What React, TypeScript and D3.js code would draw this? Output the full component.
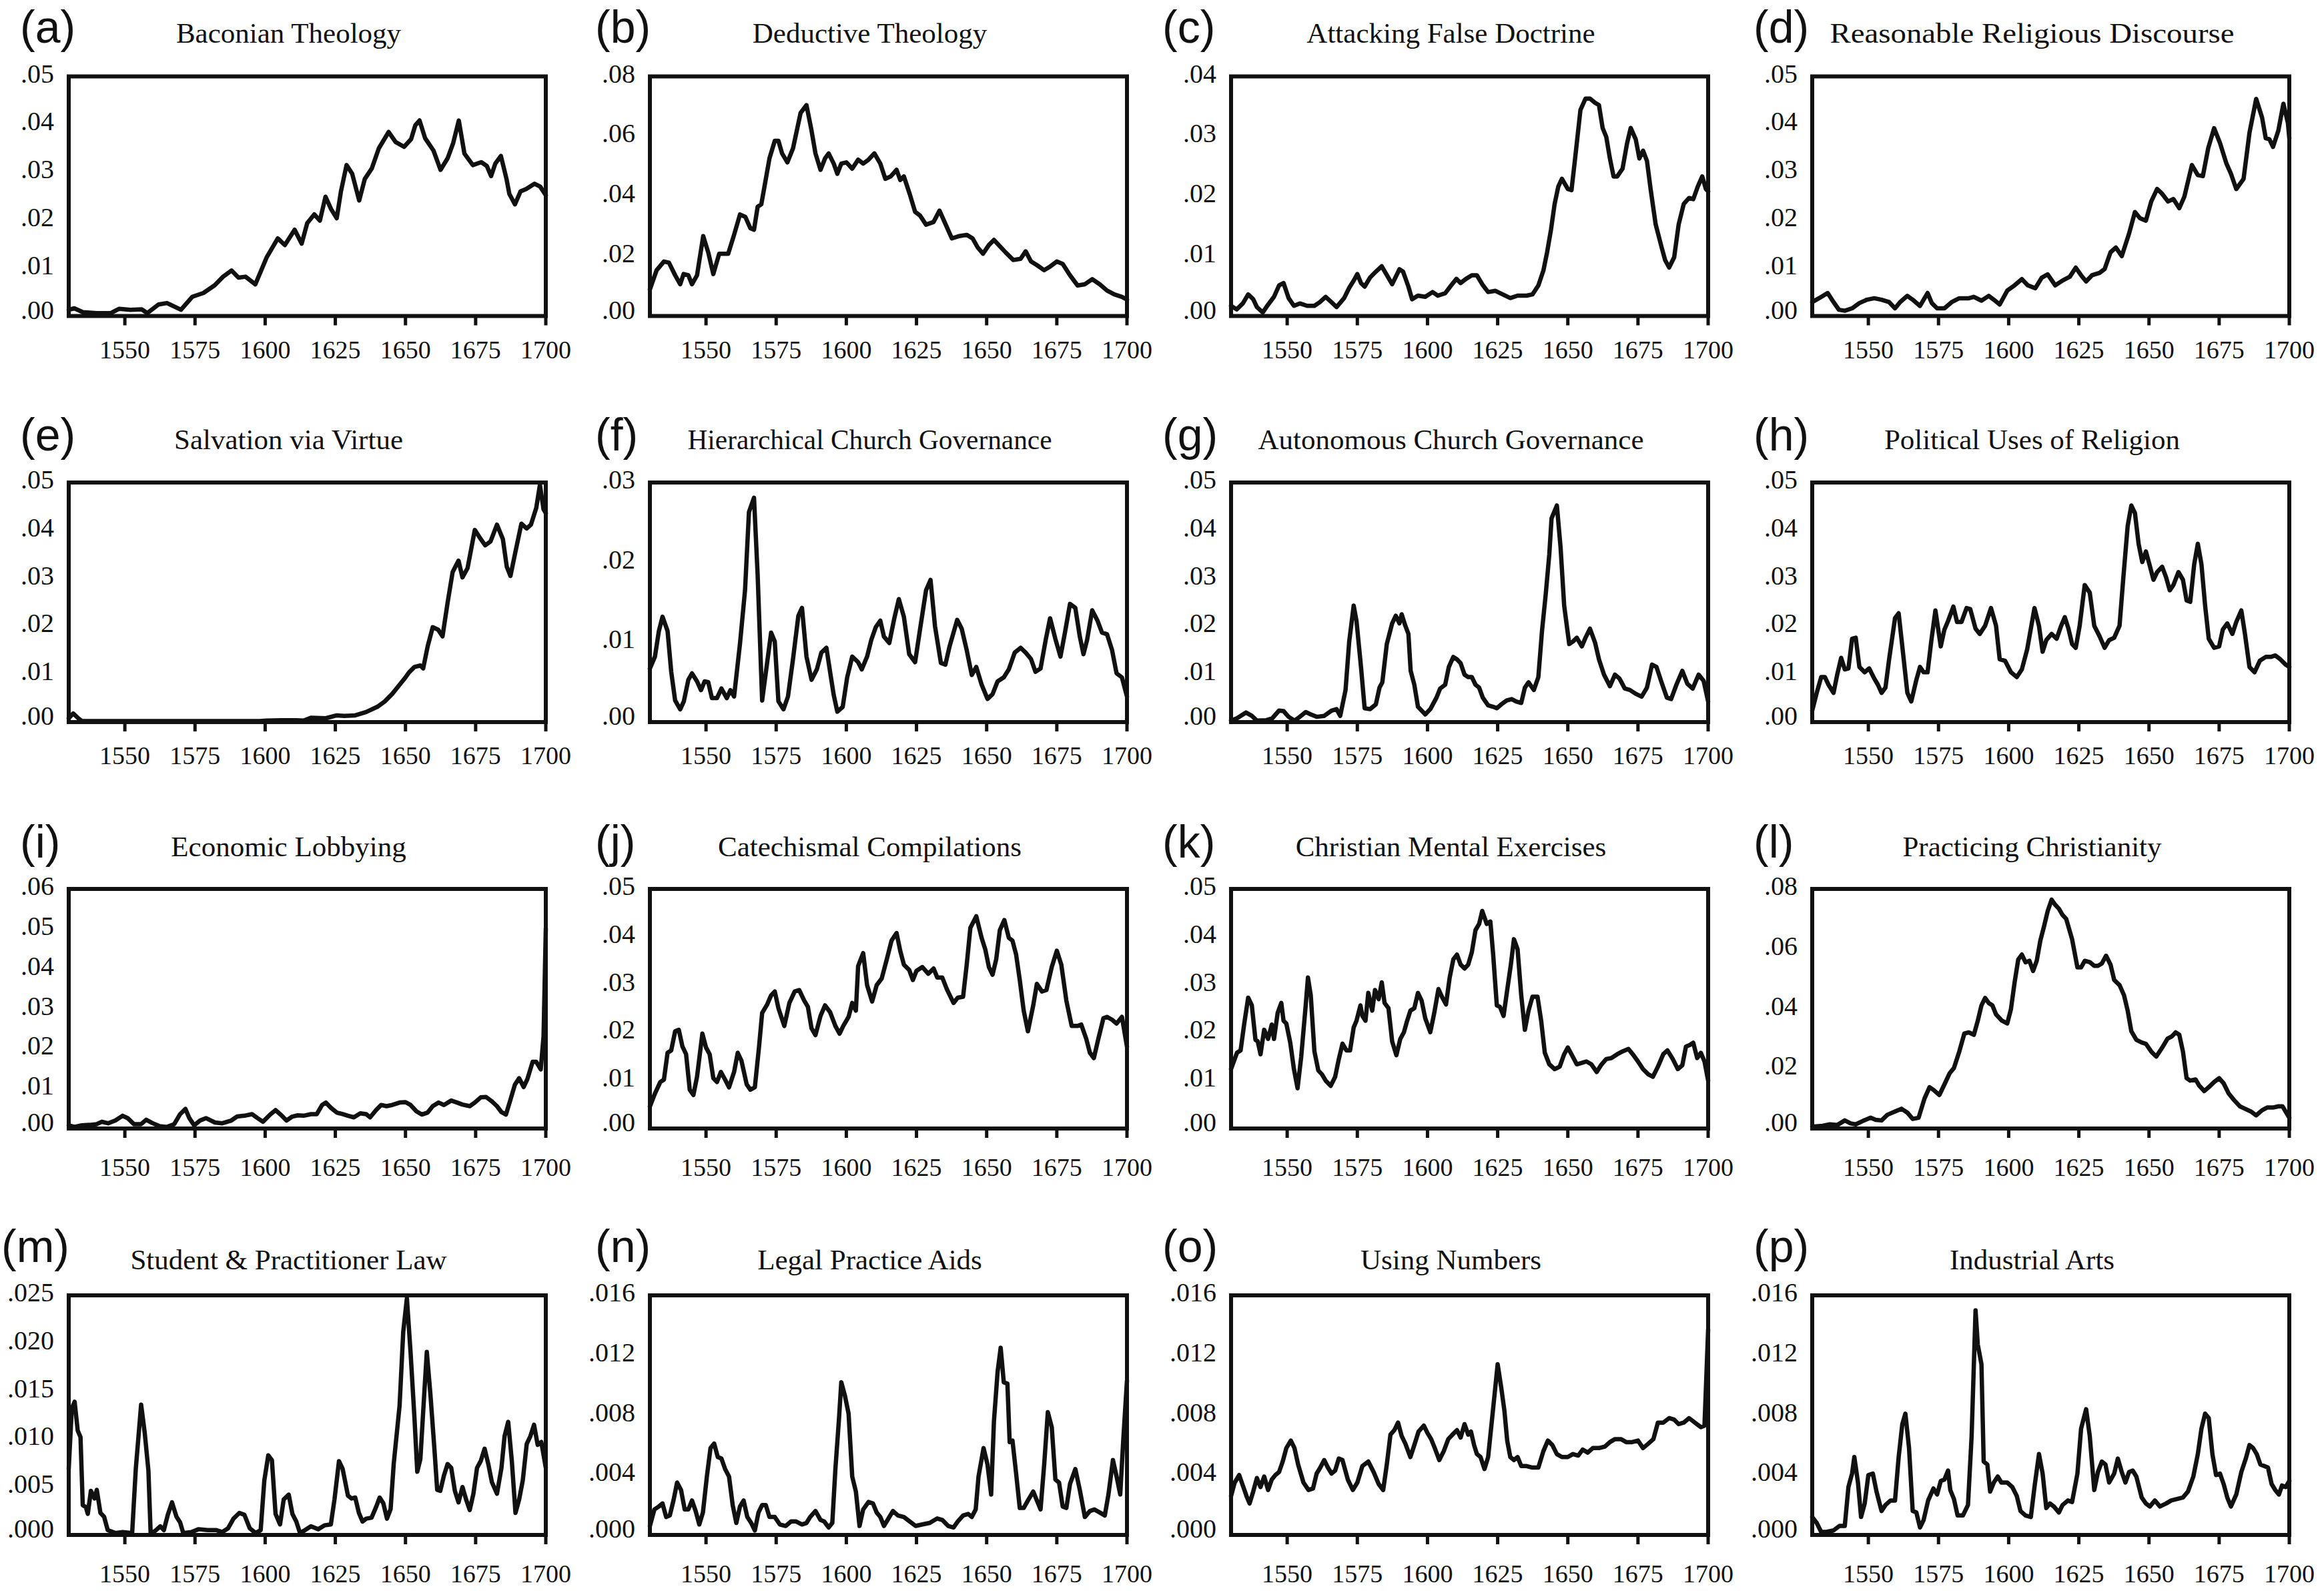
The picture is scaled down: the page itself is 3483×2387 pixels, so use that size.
import * as d3 from "d3"

type Pt = [number, number]

const letters = ["a", "b", "c", "d", "e", "f", "g", "h", "i", "j", "k", "l", "m", "n", "o", "p"]

const titles = [
  "Baconian Theology",
  "Deductive Theology",
  "Attacking False Doctrine",
  "Reasonable Religious Discourse",
  "Salvation via Virtue",
  "Hierarchical Church Governance",
  "Autonomous Church Governance",
  "Political Uses of Religion",
  "Economic Lobbying",
  "Catechismal Compilations",
  "Christian Mental Exercises",
  "Practicing Christianity",
  "Student & Practitioner Law",
  "Legal Practice Aids",
  "Using Numbers",
  "Industrial Arts",
]

const yMaxes = [0.05, 0.08, 0.04, 0.05, 0.05, 0.03, 0.05, 0.05, 0.06, 0.05, 0.05, 0.08, 0.025, 0.016, 0.016, 0.016]
const ySteps = [0.01, 0.02, 0.01, 0.01, 0.01, 0.01, 0.01, 0.01, 0.01, 0.01, 0.01, 0.02, 0.005, 0.004, 0.004, 0.004]

const xTicks = [1550, 1575, 1600, 1625, 1650, 1675, 1700]

const baconian: Pt[] = [[1530,.0013],[1532,.0016],[1535,.0008],[1540,.0006],[1545,.0006],[1548,.0015],[1552,.0013],[1556,.0014],[1558,.0006],[1562,.0024],[1565,.0027],[1570,.0013],[1574,.004],[1578,.0048],[1582,.0064],[1585,.0082],[1588,.0095],[1590.5,.008],[1593,.0082],[1596.5,.0066],[1600.5,.0122],[1604.5,.0162],[1607,.0148],[1610.5,.018],[1613,.0151],[1615,.0194],[1617.5,.0212],[1619.5,.0199],[1621.5,.0249],[1623.5,.0223],[1625.5,.0204],[1627,.026],[1629,.0315],[1631,.0297],[1633.5,.0241],[1635.5,.0286],[1638,.0308],[1640.5,.035],[1644,.0384],[1646.5,.0363],[1649.5,.0353],[1652,.0369],[1653.5,.0398],[1655,.0408],[1657,.0371],[1660,.0345],[1662.5,.0305],[1665,.0329],[1667,.0361],[1669,.0408],[1671,.0339],[1674,.0315],[1677,.0321],[1679,.0313],[1680.5,.0292],[1682,.0318],[1684,.0334],[1686,.0286],[1687,.0255],[1689,.0233],[1691,.026],[1693,.0265],[1696,.0276],[1698,.027],[1700,.0252]]

const deductive: Pt[] = [[1530,.0089],[1532.4,.0153],[1535,.0182],[1536.8,.0178],[1539,.0136],[1540.8,.0106],[1542,.014],[1543.7,.0136],[1545,.0106],[1546.8,.0136],[1549,.0267],[1550.8,.0212],[1552.6,.014],[1554.7,.0208],[1557.9,.0208],[1560,.0271],[1562.1,.0339],[1564,.0331],[1565.8,.0293],[1567.1,.0288],[1568.4,.0365],[1569.7,.0373],[1571,.0441],[1572.6,.0526],[1574.5,.0585],[1575.8,.0585],[1577.1,.0543],[1579,.0513],[1581,.056],[1583.7,.0678],[1585.8,.0704],[1587.6,.0619],[1589,.0543],[1590.8,.0488],[1592.4,.0526],[1593.7,.0543],[1595.5,.0509],[1596.8,.0475],[1598.2,.0509],[1600,.0513],[1602.1,.0492],[1604.2,.0522],[1606,.0509],[1607.9,.0522],[1610,.0543],[1612.1,.0509],[1613.9,.0458],[1615.8,.0466],[1617.9,.0488],[1619.2,.0454],[1620.5,.0466],[1622.6,.0407],[1624.5,.0348],[1626.3,.0335],[1628.4,.0305],[1631.1,.0314],[1633.2,.0352],[1635,.0314],[1637.6,.0259],[1640.3,.0267],[1642.9,.0271],[1645,.0259],[1646.8,.0229],[1648.7,.0208],[1650.8,.0237],[1652.6,.0254],[1654.7,.0233],[1656.8,.0212],[1659.5,.0187],[1662.1,.0191],[1663.9,.0216],[1665.8,.0182],[1667.9,.017],[1670.5,.0153],[1672.6,.0165],[1675,.0182],[1677.1,.0174],[1679.7,.0136],[1682.4,.0102],[1685,.0106],[1687.6,.0123],[1690.3,.0106],[1692.9,.0085],[1695.5,.0072],[1698.2,.0064],[1700,.0055]]

const attacking: Pt[] = [[1530,.0017],[1532,.0011],[1534.2,.0021],[1536.1,.0036],[1537.9,.0028],[1539.2,.0015],[1541.3,.0006],[1543.2,.0019],[1545.3,.0032],[1547.1,.0051],[1548.7,.0055],[1550.5,.003],[1552.4,.0017],[1554.5,.0021],[1557.1,.0017],[1559.7,.0017],[1561.6,.0023],[1563.7,.0032],[1565.8,.0023],[1567.6,.0015],[1570.3,.003],[1572.1,.0047],[1573.7,.0059],[1575,.007],[1576.3,.0055],[1577.6,.0049],[1579.5,.0064],[1581.6,.0074],[1583.7,.0083],[1585.3,.007],[1587.4,.0053],[1590,.0078],[1591.3,.0074],[1593.2,.0049],[1594.5,.0028],[1596.6,.0034],[1599.2,.0032],[1601.8,.004],[1603.7,.0034],[1606.3,.0038],[1608.4,.0051],[1610.3,.0062],[1611.8,.0055],[1613.7,.0062],[1615.8,.0068],[1617.6,.0068],[1619.5,.0053],[1621.6,.004],[1624.2,.0042],[1626.8,.0036],[1629.5,.003],[1632.1,.0034],[1635.3,.0034],[1637.4,.0036],[1639.5,.0051],[1641.3,.0076],[1642.6,.0106],[1644,.0144],[1645.3,.0187],[1646.6,.0216],[1647.9,.0229],[1650,.0212],[1651.3,.021],[1652.6,.0263],[1654.5,.0344],[1656.3,.0363],[1657.9,.0363],[1659.7,.0356],[1661.1,.0352],[1662.4,.0314],[1663.7,.0299],[1665,.0263],[1666.3,.0233],[1667.6,.0233],[1669.5,.0246],[1671.1,.0288],[1672.4,.0314],[1674.2,.0295],[1675.5,.0263],[1676.8,.0276],[1678.2,.0259],[1679.5,.0212],[1681.3,.0153],[1683.4,.0115],[1684.7,.0093],[1686.1,.0081],[1687.9,.0098],[1689.5,.0153],[1691.3,.0187],[1693.2,.0197],[1694.7,.0195],[1696.3,.0216],[1697.9,.0233],[1699.2,.0212],[1700,.0208]]

const reasonable: Pt[] = [[1530,.0029],[1532.4,.0037],[1535.5,.0048],[1537.6,.0029],[1539.5,.0013],[1541.6,.0011],[1544.2,.0016],[1546.8,.0027],[1549.5,.0034],[1552.1,.0037],[1554.7,.0034],[1557.4,.0029],[1559.5,.0016],[1561.3,.0029],[1563.9,.0042],[1565.8,.0034],[1568.4,.0021],[1571.1,.0048],[1572.6,.0027],[1574.5,.0016],[1577.1,.0016],[1579.7,.0029],[1582.4,.0037],[1585.8,.0037],[1587.6,.004],[1590.3,.0032],[1592.9,.0042],[1594.7,.0034],[1596.8,.0024],[1599.5,.0053],[1602.1,.0064],[1604.7,.0077],[1606.8,.0064],[1609.5,.0058],[1611.8,.008],[1613.9,.0087],[1616.6,.0064],[1619.2,.0074],[1621.8,.0082],[1623.9,.0101],[1625.8,.0085],[1627.6,.0072],[1629.7,.0085],[1632.4,.009],[1634.2,.0098],[1636.3,.0133],[1638.2,.0143],[1640.3,.0125],[1642.9,.0172],[1645,.0217],[1646.8,.0204],[1648.9,.0199],[1650.8,.0239],[1652.9,.0265],[1654.7,.0255],[1656.8,.0239],[1658.7,.0244],[1660.8,.0225],[1662.6,.0249],[1665.3,.0315],[1667.4,.0294],[1669.2,.0292],[1671.1,.035],[1673.2,.0392],[1675.3,.0361],[1677.6,.0318],[1679.2,.0297],[1681.1,.0265],[1683.7,.0286],[1685.8,.0382],[1688.2,.0453],[1690.3,.0414],[1691.6,.0371],[1692.9,.0369],[1694.2,.0353],[1696.1,.0387],[1697.9,.0443],[1699.5,.0403],[1700,.0371]]

const salvation: Pt[] = [[1530,.0008],[1531.6,.0018],[1533.4,.0008],[1534.7,.0002],[1545,.0002],[1560,.0002],[1575,.0002],[1590,.0002],[1598,.0002],[1600.5,.0003],[1605.8,.0004],[1611,.0004],[1613.7,.0003],[1616.3,.0009],[1621.6,.0008],[1625.5,.0014],[1628.2,.0013],[1632.1,.0014],[1636,.0021],[1640,.0032],[1642.6,.0043],[1645.3,.0059],[1647.9,.0078],[1649.7,.0091],[1651.3,.0104],[1653.2,.0115],[1655.3,.0118],[1656.3,.0112],[1657.9,.0158],[1659.7,.0198],[1661.6,.0193],[1663.2,.0179],[1665,.0249],[1666.8,.0313],[1668.9,.0337],[1670.3,.0302],[1672.1,.0321],[1673.4,.0361],[1674.7,.0401],[1676.8,.0382],[1678.4,.0369],[1680.3,.0377],[1682.6,.0412],[1684.7,.0382],[1686.1,.0324],[1687.4,.0305],[1689.2,.0356],[1691.3,.0414],[1693.2,.0404],[1694.7,.0412],[1696.6,.0447],[1697.9,.0495],[1699.2,.0444],[1700,.0436]]

const hierarchical: Pt[] = [[1530,.0067],[1531.8,.0082],[1533.2,.0114],[1534.5,.0132],[1536.3,.0114],[1537.6,.0063],[1539,.0027],[1540.8,.0016],[1542.1,.0026],[1543.7,.0053],[1545,.0061],[1546.8,.0051],[1548.2,.004],[1549.5,.0051],[1550.8,.005],[1552.1,.003],[1553.9,.003],[1555.5,.0042],[1557.4,.003],[1558.7,.004],[1560,.0032],[1562.1,.0098],[1563.9,.0165],[1565.3,.0263],[1567.1,.0281],[1568.4,.0184],[1570,.0027],[1571.8,.0075],[1573.2,.0112],[1574.5,.0101],[1575.8,.0026],[1577.6,.0016],[1579.2,.0032],[1581,.0079],[1582.9,.0133],[1584.2,.0143],[1585.8,.0082],[1587.6,.0053],[1589.5,.0066],[1591.1,.0087],[1592.9,.0093],[1594.2,.0063],[1595.5,.0034],[1596.8,.0013],[1598.7,.0019],[1600.3,.0056],[1602.1,.0082],[1604.2,.0075],[1605.5,.0066],[1607.4,.0082],[1608.9,.0103],[1610.5,.0119],[1612.1,.0127],[1613.4,.0107],[1615.3,.0099],[1617.1,.013],[1618.7,.0154],[1620.5,.0132],[1622.4,.0085],[1624.5,.0075],[1626.3,.0117],[1628.4,.0165],[1630,.0178],[1631.6,.012],[1633.7,.0074],[1635.3,.0072],[1636.8,.0095],[1639.5,.0128],[1641.1,.0117],[1642.9,.009],[1644.7,.0059],[1646.3,.0069],[1648.2,.0047],[1650.3,.0029],[1652.1,.0035],[1653.9,.0051],[1656.1,.0056],[1657.9,.0066],[1660,.0087],[1662.1,.0093],[1663.9,.0087],[1665.8,.0079],[1667.4,.0063],[1669.2,.0067],[1671.1,.0104],[1672.6,.013],[1674.5,.0104],[1676.3,.0082],[1677.9,.0112],[1679.7,.0148],[1681.6,.0143],[1683.2,.0107],[1684.5,.0085],[1685.8,.0103],[1687.6,.014],[1689.5,.0127],[1691.1,.0112],[1692.9,.011],[1694.7,.009],[1696.3,.0061],[1698.2,.0056],[1700,.0032]]

const autonomous: Pt[] = [[1530,.0003],[1532.1,.0008],[1535.3,.002],[1537.4,.0013],[1539.2,.0003],[1542.6,.0004],[1544.7,.0008],[1547.1,.0024],[1548.7,.0023],[1550.5,.0011],[1552.6,.0003],[1554.5,.0011],[1556.6,.0021],[1558.4,.0016],[1560.5,.0011],[1563.2,.0013],[1565.8,.0024],[1567.6,.0027],[1568.9,.0013],[1570.8,.0067],[1572.1,.0168],[1573.7,.0243],[1574.7,.0211],[1576.3,.0115],[1577.6,.0029],[1579.5,.0027],[1581.6,.0037],[1582.9,.0072],[1583.9,.0083],[1585.5,.0163],[1587.4,.0206],[1588.7,.0222],[1590,.0206],[1590.8,.0225],[1592.1,.0201],[1593.2,.0184],[1594,.0107],[1595.3,.0078],[1596.6,.0032],[1597.9,.0024],[1599.2,.0016],[1601,.0027],[1603.2,.0051],[1604.5,.007],[1606.3,.0078],[1607.6,.0115],[1609.2,.0136],[1610.5,.0131],[1611.8,.0123],[1613.2,.0099],[1614.5,.0094],[1615.8,.0094],[1617.1,.0078],[1618.4,.0072],[1619.7,.0051],[1621.6,.0035],[1623.4,.0032],[1624.7,.0029],[1626.3,.0037],[1628.2,.0045],[1630,.0048],[1631.6,.0043],[1633.4,.004],[1634.7,.0072],[1636,.0083],[1637.9,.0067],[1639.5,.0094],[1640.8,.019],[1642.1,.0265],[1643.4,.035],[1644.2,.0425],[1646.1,.0452],[1647.4,.0366],[1648.7,.0243],[1650.5,.0163],[1651.8,.0168],[1653.2,.0176],[1655,.0158],[1656.3,.0176],[1657.9,.0195],[1659.7,.0166],[1661.1,.0131],[1662.9,.0099],[1665,.0075],[1666.8,.0099],[1668.4,.0091],[1670.3,.007],[1672.1,.0067],[1674.2,.0059],[1676.3,.0053],[1678.2,.0072],[1680,.012],[1681.6,.0115],[1683.4,.0083],[1685.3,.0051],[1686.8,.0048],[1688.7,.0078],[1690.8,.0107],[1692.6,.008],[1694.5,.007],[1696.6,.0099],[1698.4,.0086],[1700,.0043]]

const political: Pt[] = [[1530,.0024],[1531.6,.0061],[1533.2,.0094],[1534.5,.0094],[1535.8,.0078],[1537.6,.0061],[1538.9,.0099],[1540.3,.0134],[1541.6,.011],[1542.9,.0112],[1544.2,.0174],[1545.5,.0176],[1546.8,.0115],[1548.7,.0104],[1550.3,.0112],[1552.1,.0091],[1553.4,.0078],[1554.7,.0061],[1556.1,.0072],[1557.4,.0131],[1559.5,.0217],[1560.8,.0227],[1562.1,.0158],[1563.9,.0061],[1565.3,.0043],[1567.1,.0088],[1568.4,.0115],[1569.7,.0104],[1571.1,.0104],[1572.4,.0168],[1573.9,.0233],[1575.8,.0158],[1577.1,.0193],[1578.4,.0211],[1580.3,.0241],[1581.6,.0209],[1583.2,.0209],[1585,.0238],[1586.3,.0236],[1588.2,.0195],[1589.7,.0184],[1591.6,.0201],[1593.7,.0238],[1595.5,.0201],[1596.8,.0131],[1598.7,.0128],[1600.8,.0104],[1602.9,.0094],[1604.7,.011],[1606.6,.0152],[1607.9,.0195],[1609.2,.0238],[1610.8,.0201],[1612.1,.0147],[1613.4,.0171],[1615.3,.0184],[1617.1,.0174],[1618.7,.0201],[1620,.0219],[1621.3,.0195],[1622.6,.0163],[1623.9,.0155],[1625.3,.0201],[1627.1,.0286],[1628.9,.027],[1630.5,.0201],[1632.4,.0179],[1634.2,.0155],[1635.8,.0171],[1637.6,.0176],[1639.5,.0201],[1640.8,.0297],[1642.4,.0409],[1643.7,.0452],[1645,.0436],[1646.3,.0372],[1647.6,.0334],[1648.9,.0356],[1650.3,.0326],[1651.6,.0297],[1652.9,.0313],[1654.7,.0324],[1656.1,.0302],[1657.4,.0275],[1658.7,.0286],[1660.5,.0313],[1662.1,.0297],[1663.4,.0254],[1664.7,.0251],[1666.1,.0329],[1667.4,.0372],[1668.7,.0329],[1670,.0243],[1671.3,.0174],[1673.2,.0155],[1675,.0158],[1676.3,.0193],[1677.9,.0206],[1679.7,.0184],[1681.1,.0209],[1682.9,.0233],[1684.2,.0184],[1685.8,.0115],[1687.6,.0104],[1689.5,.0128],[1691.6,.0136],[1693.4,.0136],[1695,.0139],[1696.8,.0131],[1698.7,.012],[1700,.0115]]

const economic: Pt[] = [[1530,.0008],[1532,.0004],[1534.7,.0008],[1537.4,.0009],[1540,.0011],[1541.8,.0017],[1544,.0013],[1546.6,.002],[1549.2,.0032],[1551,.0026],[1553.2,.0011],[1555.8,.0011],[1557.6,.0022],[1559.7,.0014],[1562.4,.0006],[1565,.0004],[1567.6,.0011],[1569.7,.0036],[1571.6,.0049],[1572.9,.0027],[1574.7,.0008],[1576.8,.002],[1578.9,.0026],[1582.1,.0015],[1584.7,.0013],[1587.9,.002],[1590,.003],[1592.6,.0032],[1595.3,.0036],[1597.1,.0027],[1599.2,.0017],[1601.8,.0035],[1603.7,.0046],[1605.8,.0033],[1607.6,.002],[1609.7,.003],[1611.6,.0033],[1613.7,.0032],[1616.3,.0036],[1618.4,.0036],[1620.3,.0059],[1621.6,.0065],[1623.4,.0052],[1625.5,.004],[1627.6,.0036],[1629.5,.0032],[1631.6,.0028],[1633.9,.0038],[1636,.0036],[1637.4,.0028],[1639.5,.0046],[1641.3,.0059],[1643.2,.0056],[1645.3,.0059],[1647.9,.0065],[1650,.0066],[1651.8,.0059],[1653.9,.0043],[1655.8,.0035],[1657.9,.004],[1659.7,.0056],[1661.8,.0065],[1663.7,.0059],[1666.3,.007],[1668.4,.0065],[1670.3,.006],[1672.9,.0056],[1674.7,.0065],[1676.8,.0078],[1678.7,.0079],[1680.8,.0068],[1682.6,.0056],[1684.2,.0041],[1685.8,.0035],[1687.4,.0072],[1689,.011],[1690.5,.0126],[1692.1,.0104],[1693.4,.0123],[1695.3,.0167],[1696.6,.0167],[1698.2,.0148],[1699.2,.0231],[1700,.05]]

const catechismal: Pt[] = [[1530,.0046],[1531.8,.0073],[1533.7,.0097],[1535,.0102],[1536.3,.0158],[1537.6,.0163],[1539,.0203],[1540.3,.0206],[1541.6,.0171],[1542.9,.0155],[1544.2,.0081],[1545.5,.007],[1546.8,.0108],[1548.7,.0198],[1550,.0169],[1551.3,.0155],[1552.6,.0105],[1553.9,.0097],[1555.3,.0118],[1556.8,.0102],[1558.2,.0086],[1560,.0118],[1561.3,.0158],[1562.6,.0142],[1564.5,.0092],[1565.8,.0081],[1567.4,.0086],[1568.9,.0171],[1570,.0241],[1571.8,.0259],[1573.2,.0278],[1574.5,.0286],[1575.8,.0251],[1577.9,.0214],[1579.7,.0262],[1581.6,.0286],[1583.2,.0289],[1585,.0267],[1586.3,.0254],[1587.6,.0209],[1589,.0195],[1590.8,.0235],[1592.4,.0257],[1594.2,.0243],[1596.1,.0214],[1597.6,.0198],[1598.9,.0214],[1600.8,.0233],[1602.1,.0262],[1603.4,.0246],[1604.2,.0339],[1606,.0366],[1607.4,.0299],[1609.2,.0265],[1610.8,.0299],[1612.6,.0313],[1614.5,.0355],[1616.1,.0392],[1617.9,.0408],[1619.2,.0371],[1620.5,.0342],[1622.4,.0331],[1623.7,.031],[1625,.0329],[1627.1,.0337],[1629.2,.0323],[1631.1,.0334],[1632.4,.0315],[1634.2,.0315],[1635.8,.0291],[1638.2,.0262],[1639.7,.0273],[1641.6,.0275],[1642.9,.0342],[1644.2,.0419],[1646.3,.0443],[1648.2,.0398],[1649.5,.0374],[1650.8,.0337],[1652.1,.0321],[1653.4,.0353],[1654.7,.0414],[1656.3,.0435],[1657.9,.0398],[1659.2,.0392],[1660.5,.0363],[1661.8,.031],[1663.2,.0246],[1664.7,.0203],[1666.6,.0257],[1667.9,.0302],[1669.7,.0286],[1671.3,.0289],[1673.2,.0337],[1675,.0371],[1676.6,.0342],[1678.4,.0267],[1680.3,.0214],[1682.4,.0214],[1683.7,.0217],[1685.5,.0187],[1686.8,.0158],[1688.2,.0147],[1689.7,.0185],[1691.6,.023],[1692.9,.0233],[1694.7,.0227],[1696.3,.0219],[1698.2,.0233],[1700,.0171]]

const mental: Pt[] = [[1530,.0124],[1532.1,.0158],[1533.4,.0163],[1534.7,.0219],[1536.1,.0273],[1537.4,.0257],[1538.7,.0185],[1539.5,.0182],[1540.5,.0155],[1541.8,.0206],[1543.2,.0187],[1544.5,.0217],[1545.3,.0187],[1546.6,.0241],[1547.9,.0262],[1548.7,.0225],[1549.7,.0219],[1551.1,.0179],[1552.4,.0124],[1553.7,.0084],[1555,.015],[1556.6,.0257],[1557.4,.0315],[1558.4,.0278],[1559.7,.0161],[1561.1,.0121],[1562.4,.0113],[1563.7,.01],[1565.5,.0089],[1567.1,.0108],[1568.4,.0145],[1569.7,.0177],[1571.1,.0163],[1572.4,.0163],[1573.7,.0211],[1574.7,.0225],[1576.1,.0257],[1576.8,.0235],[1577.9,.0225],[1578.9,.0283],[1580.3,.0246],[1581.3,.0289],[1582.6,.027],[1583.7,.0305],[1584.7,.0262],[1586.1,.0251],[1587.4,.0182],[1588.9,.0153],[1590.3,.0187],[1591.6,.0201],[1592.6,.0222],[1593.9,.0246],[1595.3,.0251],[1596.6,.0283],[1597.9,.0267],[1599.2,.023],[1601,.0201],[1602.4,.0241],[1603.9,.0291],[1605.3,.0273],[1606.6,.0259],[1607.9,.0315],[1609.2,.0353],[1610.5,.0363],[1611.8,.0342],[1613.2,.0334],[1614.5,.0342],[1615.8,.0368],[1617.1,.0414],[1618.4,.0427],[1619.5,.0454],[1621.1,.0427],[1622.4,.0432],[1623.4,.0363],[1624.7,.0257],[1625.8,.0254],[1627.1,.0235],[1628.4,.0289],[1629.7,.0342],[1630.8,.0395],[1632.1,.0374],[1633.4,.0278],[1634.7,.0206],[1636,.0246],[1637.4,.0275],[1639.2,.0275],[1640.5,.0225],[1641.8,.0158],[1643.4,.0134],[1645.3,.0124],[1647.1,.0129],[1648.7,.0155],[1650,.0169],[1651.3,.0155],[1653.2,.0134],[1655,.0137],[1656.6,.014],[1658.4,.0134],[1660.3,.0118],[1661.8,.0132],[1663.7,.0145],[1665.5,.0147],[1667.6,.0155],[1669.5,.0161],[1671.6,.0166],[1673.4,.0153],[1675,.014],[1676.8,.0124],[1678.7,.0113],[1680.3,.0108],[1682.1,.0129],[1684,.0155],[1685.5,.0163],[1687.4,.0145],[1689.2,.0124],[1690.8,.0132],[1692.1,.0171],[1693.4,.0174],[1694.7,.0179],[1696.1,.0147],[1697.4,.0158],[1698.7,.014],[1700,.01]]

const practicing: Pt[] = [[1530,.0006],[1533.7,.0009],[1536.3,.0014],[1539,.0012],[1541.6,.0027],[1543.7,.0017],[1545.5,.0014],[1548.2,.0026],[1550.8,.0036],[1552.6,.0029],[1554.7,.0027],[1556.8,.0046],[1559.5,.0057],[1561.8,.0066],[1563.9,.0053],[1565.8,.0032],[1567.9,.0036],[1570,.01],[1571.8,.0138],[1573.2,.0129],[1575.3,.0112],[1577.1,.0147],[1579,.0185],[1580.5,.0202],[1582.4,.0257],[1584.2,.0317],[1585.8,.0321],[1587.6,.0313],[1589,.036],[1590.3,.0411],[1591.6,.0436],[1592.9,.0419],[1594.2,.0411],[1595.5,.0381],[1597.6,.036],[1599.5,.0351],[1600.8,.0398],[1602.1,.0487],[1603.4,.0564],[1604.7,.0581],[1606,.0555],[1607.4,.056],[1608.7,.0526],[1610,.056],[1611.3,.0628],[1612.6,.0675],[1613.9,.0726],[1615.3,.0764],[1616.6,.0747],[1617.9,.0734],[1619.2,.0713],[1620.5,.07],[1622.6,.0632],[1624.5,.0538],[1625.8,.0538],[1627.1,.056],[1629,.0555],[1630.5,.0543],[1631.8,.0543],[1633.2,.0551],[1634.7,.0577],[1636.3,.0547],[1637.6,.0496],[1639.5,.0479],[1641.1,.0445],[1642.4,.0394],[1643.7,.0325],[1645.5,.0296],[1647.4,.0287],[1648.9,.0283],[1650.8,.0257],[1652.6,.024],[1654.7,.027],[1656.6,.03],[1658.2,.0308],[1659.5,.0321],[1660.8,.0313],[1662.1,.0257],[1663.4,.0168],[1664.7,.016],[1666.6,.0164],[1667.9,.0143],[1669.7,.0125],[1671.3,.0138],[1673.2,.0155],[1675,.0168],[1676.6,.0151],[1678.4,.0117],[1680.3,.0095],[1682.4,.0074],[1684.2,.0066],[1686.3,.0057],[1688.2,.0044],[1690.3,.0061],[1692.1,.007],[1694.2,.007],[1696.1,.0074],[1697.6,.0074],[1698.9,.0053],[1700,.0036]]

const studentLaw: Pt[] = [[1530,.0069],[1531.1,.0132],[1532.1,.0139],[1533.2,.0109],[1534.2,.0102],[1535,.0031],[1536.1,.0029],[1536.8,.0022],[1537.9,.0046],[1539.2,.0038],[1540,.0047],[1541.3,.0023],[1542.6,.0019],[1543.9,.0005],[1546.6,.0002],[1549.2,.0003],[1552.6,.0002],[1553.9,.0069],[1555.8,.0136],[1557.1,.0106],[1558.4,.0067],[1559.2,.0001],[1561.1,.0005],[1562.6,.0009],[1563.9,.0005],[1565.3,.0021],[1566.8,.0034],[1568.4,.0019],[1569.7,.0013],[1570.8,.0002],[1573.7,.0003],[1576.3,.0006],[1579.5,.0005],[1582.6,.0005],[1584.7,.0003],[1586.8,.0007],[1588.7,.0017],[1590.8,.0023],[1592.6,.0021],[1594.5,.0007],[1596.6,.0002],[1598.4,.0005],[1599.7,.0057],[1601.1,.0083],[1602.4,.0078],[1603.7,.0022],[1605.3,.0011],[1606.6,.0037],[1608.4,.0042],[1609.7,.0022],[1611.1,.0014],[1612.4,.0002],[1614.2,.0005],[1616.3,.0009],[1618.9,.0006],[1621.1,.001],[1623.4,.0011],[1624.7,.0037],[1626.3,.0077],[1627.6,.0069],[1629.5,.0041],[1630.8,.0038],[1632.1,.0039],[1633.4,.0023],[1634.7,.0014],[1636,.0017],[1637.9,.0018],[1639.5,.0029],[1640.8,.0039],[1642.1,.0033],[1643.4,.0017],[1644.7,.0027],[1645.8,.0074],[1647.9,.0135],[1649.2,.0212],[1650.5,.0247],[1651.8,.0191],[1653.2,.0122],[1654.2,.0066],[1655.3,.0079],[1656.6,.0143],[1657.6,.0191],[1658.9,.0146],[1660.3,.009],[1661.3,.0047],[1662.4,.0046],[1663.7,.0062],[1665,.0074],[1666.3,.007],[1667.6,.0046],[1668.9,.0034],[1670.3,.005],[1671.6,.0037],[1672.9,.0026],[1674.2,.0043],[1675.5,.007],[1676.8,.0077],[1678.2,.009],[1679.5,.0074],[1680.8,.0055],[1682.6,.0043],[1684.2,.007],[1685.3,.0103],[1686.6,.0118],[1687.9,.0077],[1689.2,.0023],[1690.5,.0037],[1691.8,.0057],[1693.2,.0095],[1694.5,.0103],[1695.8,.0115],[1697.1,.0094],[1698.4,.0097],[1700,.007]]

const legalAids: Pt[] = [[1530,.0006],[1531.6,.0017],[1533.2,.0019],[1534.5,.0021],[1535.8,.0012],[1537.1,.0013],[1538.4,.0023],[1539.7,.0035],[1541.1,.003],[1542.4,.0017],[1543.7,.0017],[1545,.0023],[1546.3,.0016],[1547.6,.0007],[1548.9,.0015],[1550.3,.0039],[1551.6,.0058],[1552.9,.0061],[1554.2,.0052],[1555.5,.0051],[1556.8,.0044],[1558.2,.0039],[1559.5,.002],[1560.8,.0008],[1562.1,.0019],[1563.4,.0023],[1564.7,.0012],[1566.1,.0008],[1567.4,.0003],[1568.7,.0015],[1570,.002],[1571.3,.002],[1572.6,.0012],[1574.5,.0012],[1576.3,.0007],[1578.4,.0006],[1580.3,.0009],[1582.1,.0009],[1584.2,.0007],[1585.8,.0008],[1587.1,.0012],[1589,.0016],[1590.8,.001],[1592.1,.0009],[1593.7,.0005],[1595,.0008],[1596.1,.0044],[1597.4,.0078],[1598.2,.0102],[1599.5,.0093],[1600.8,.0081],[1602.1,.0039],[1603.4,.0029],[1604.7,.0006],[1606,.0017],[1607.9,.0022],[1609.5,.0021],[1610.8,.0015],[1612.1,.0012],[1613.4,.0006],[1614.7,.001],[1616.6,.0016],[1618.4,.0013],[1620.5,.0012],[1622.6,.0009],[1624.7,.0006],[1627.1,.0007],[1629.7,.0008],[1632.4,.0011],[1634.2,.001],[1636.3,.0006],[1638.2,.0005],[1639.7,.0009],[1641.6,.0013],[1643.4,.0014],[1644.7,.0012],[1646.1,.0017],[1647.1,.0039],[1648.9,.0058],[1650.3,.0047],[1651.6,.0027],[1652.6,.0076],[1653.9,.0109],[1655,.0125],[1656.1,.0102],[1657.4,.0101],[1658.2,.0062],[1659.2,.0063],[1660.5,.0041],[1661.8,.0018],[1663.2,.0018],[1664.7,.0023],[1666.6,.0029],[1667.9,.0023],[1669.2,.0017],[1670.5,.0047],[1671.8,.0082],[1673.2,.0072],[1674.5,.0037],[1675.8,.0035],[1677.1,.0019],[1678.4,.0018],[1679.7,.0034],[1681.6,.0044],[1683.2,.003],[1685,.0012],[1686.8,.0016],[1688.4,.0017],[1690.3,.0015],[1692.1,.0013],[1693.4,.0027],[1695,.005],[1696.3,.0039],[1697.6,.0027],[1698.7,.0064],[1700,.0103]]

const usingNumbers: Pt[] = [[1530,.0026],[1531.3,.0035],[1532.9,.004],[1534.2,.0033],[1535.5,.0026],[1536.6,.0021],[1537.9,.0029],[1539.2,.0038],[1540.5,.0032],[1541.8,.0039],[1543.2,.003],[1544.5,.0037],[1545.8,.004],[1547.1,.0042],[1548.4,.0049],[1549.7,.0058],[1551.3,.0063],[1552.6,.0058],[1553.9,.0047],[1555.8,.0035],[1557.6,.003],[1559.2,.0031],[1560.5,.0041],[1561.8,.0045],[1563.2,.005],[1564.5,.0045],[1565.8,.0041],[1567.1,.0043],[1568.4,.0051],[1569.7,.005],[1571.6,.0037],[1573.4,.003],[1575,.0035],[1576.8,.0046],[1578.9,.0049],[1580.8,.0042],[1582.6,.0034],[1584.2,.003],[1585.5,.0047],[1586.8,.0067],[1588.2,.007],[1589.5,.0075],[1590.8,.0066],[1592.1,.0061],[1593.9,.0052],[1595.3,.006],[1596.8,.0069],[1598.7,.0073],[1600,.0068],[1601.3,.0064],[1602.6,.0058],[1604.2,.005],[1605.8,.0056],[1607.4,.0064],[1608.9,.0067],[1610.5,.007],[1611.8,.0065],[1613.2,.0074],[1614.5,.0067],[1615.5,.0069],[1616.6,.006],[1617.6,.0054],[1618.9,.0052],[1620.3,.0044],[1621.6,.0052],[1623.2,.0081],[1625,.0114],[1626.3,.0098],[1627.4,.0083],[1628.4,.0063],[1629.5,.0052],[1630.8,.005],[1632.1,.0052],[1633.4,.0046],[1635.3,.0046],[1637.4,.0045],[1639.5,.0045],[1641.3,.0056],[1642.9,.0063],[1644.5,.006],[1646.1,.0054],[1647.9,.0052],[1650,.0052],[1651.8,.0054],[1653.7,.0053],[1655.3,.0057],[1657.1,.0055],[1658.9,.0058],[1661.1,.0058],[1663.2,.0059],[1665,.0062],[1666.8,.0064],[1668.9,.0064],[1670.8,.0062],[1672.9,.0062],[1675,.0063],[1676.8,.0058],[1678.7,.0061],[1680.5,.0064],[1682.1,.0075],[1684,.0075],[1686.1,.0078],[1687.9,.0077],[1689.5,.0074],[1691.3,.0075],[1693.2,.0078],[1695.3,.0075],[1697.4,.0072],[1698.7,.0073],[1700,.0137]]

const industrial: Pt[] = [[1530,.0012],[1531.6,.0008],[1533.2,.0002],[1535,.0002],[1537.6,.0003],[1539.7,.0006],[1541.6,.0006],[1542.9,.0032],[1544.2,.0041],[1545,.0052],[1546.3,.0035],[1547.4,.0012],[1548.7,.0021],[1550,.004],[1551.6,.0041],[1552.9,.0029],[1554.7,.0016],[1556.1,.002],[1557.9,.0023],[1559.5,.0023],[1560.8,.0052],[1562.1,.0074],[1563.2,.0081],[1564.5,.0058],[1565.8,.0016],[1567.1,.0015],[1568.4,.0005],[1569.7,.001],[1571.3,.0023],[1573.2,.0031],[1574.5,.0027],[1575.8,.0036],[1577.1,.0037],[1578.4,.0043],[1579.2,.003],[1580.5,.0024],[1581.8,.0013],[1583.7,.0013],[1585.5,.002],[1586.8,.0066],[1588.2,.015],[1589,.0127],[1590.3,.0114],[1591.1,.0049],[1592.4,.0047],[1593.4,.0029],[1594.7,.0035],[1596.1,.0039],[1597.4,.0035],[1599.5,.0035],[1601.3,.0032],[1602.9,.0026],[1604.2,.0016],[1606,.0013],[1607.9,.0012],[1609.2,.0032],[1610.8,.0054],[1612.1,.0041],[1613.4,.0018],[1614.7,.0021],[1616.1,.0019],[1617.9,.0015],[1619.2,.002],[1621.1,.0023],[1622.6,.0022],[1624.5,.0041],[1625.8,.0071],[1627.6,.0084],[1628.9,.0066],[1630.5,.003],[1631.8,.0042],[1633.2,.0049],[1634.5,.0047],[1635.8,.0035],[1637.6,.0041],[1638.9,.0051],[1640.3,.0042],[1641.6,.0035],[1642.9,.0042],[1644.2,.0043],[1645.5,.0039],[1647.4,.0025],[1648.9,.0021],[1650.3,.0019],[1652.1,.0023],[1653.9,.0019],[1656.1,.0021],[1657.9,.0023],[1660,.0024],[1662.1,.0025],[1663.9,.0029],[1665.8,.0039],[1667.4,.0054],[1668.7,.0071],[1670,.0081],[1671.3,.0078],[1672.6,.0054],[1673.9,.004],[1675.3,.0041],[1676.6,.0034],[1677.9,.0025],[1679.2,.0019],[1681.1,.0027],[1682.9,.0042],[1684.5,.0051],[1685.8,.006],[1687.1,.0058],[1688.4,.0054],[1689.7,.0047],[1691.1,.0046],[1692.4,.0045],[1693.7,.0034],[1695,.003],[1696.3,.0027],[1697.4,.0033],[1698.7,.0032],[1700,.0036]]

const series: Pt[][] = [
  baconian, deductive, attacking, reasonable,
  salvation, hierarchical, autonomous, political,
  economic, catechismal, mental, practicing,
  studentLaw, legalAids, usingNumbers, industrial,
]

// layout (px in a 3483 x 2387 canvas)
const W = 3483
const H = 2387
const colLeft = [103, 974, 1845, 2716]
const rowTop = [114.5, 723, 1332, 1941]
const plotW = 715
const plotH = 359
const labelX = [30, 892, 1742, 2628]
const titleDrop = [51, 50, 49, 39]
const letterDrop = [51, 48, 47, 50]
const xLabelDrop = [63, 63, 71, 71]
// a couple of titles are set wider / tighter than the font's natural width
const titleFit: Record<number, number> = { 3: 606, 5: 546 }

const serif = "'Liberation Serif', 'Times New Roman', Times, serif"
const sans = "'Liberation Sans', Arial, Helvetica, sans-serif"

function Panel({ i }: { i: number }) {
  const col = i % 4
  const row = Math.floor(i / 4)
  const x0 = colLeft[col]
  const y0 = rowTop[row]
  const yMax = yMaxes[i]
  const step = ySteps[i]
  const digits = step < 0.01 ? 3 : 2

  const x = d3.scaleLinear().domain([1530, 1700]).range([0, plotW])
  const y = d3.scaleLinear().domain([0, yMax]).range([plotH, 0])
  const line = d3
    .line<Pt>()
    .x((d) => x(d[0]))
    .y((d) => y(d[1]))

  const yTicks = d3.range(0, Math.round(yMax / step) + 1).map((k) => k * step)
  const fmt = (v: number) => d3.format(`.${digits}f`)(v).replace(/^0/, "")
  const fit = titleFit[i]

  return (
    <g>
      <text
        x={labelX[col] - (i === 12 ? 28 : 0)}
        y={y0 - letterDrop[row]}
        fontFamily={sans}
        fontSize={68}
        fill="#111"
      >
        ({letters[i]})
      </text>
      <text
        x={x0 + plotW / 2 - 28}
        y={y0 - titleDrop[row]}
        textAnchor="middle"
        fontFamily={serif}
        fontSize={43}
        fill="#111"
        textLength={fit}
        lengthAdjust={fit ? "spacingAndGlyphs" : undefined}
      >
        {titles[i]}
      </text>
      <g transform={`translate(${x0},${y0})`}>
        <path
          d={line(series[i]) || ""}
          fill="none"
          stroke="#111"
          strokeWidth={6.5}
          strokeLinejoin="round"
          strokeLinecap="round"
        />
        <rect x={0} y={0} width={plotW} height={plotH} fill="none" stroke="#111" strokeWidth={6} />
        {xTicks.map((t) => (
          <g key={t}>
            <line x1={x(t)} x2={x(t)} y1={plotH} y2={plotH + 14} stroke="#111" strokeWidth={5} />
            <text
              x={x(t)}
              y={plotH + xLabelDrop[row]}
              textAnchor="middle"
              fontFamily={serif}
              fontSize={38}
              fill="#111"
            >
              {t}
            </text>
          </g>
        ))}
        {yTicks.map((v) => (
          <text
            key={v}
            x={-22}
            y={y(v) + (v === 0 ? 4 : 9)}
            textAnchor="end"
            fontFamily={serif}
            fontSize={40}
            fill="#111"
          >
            {fmt(v)}
          </text>
        ))}
      </g>
    </g>
  )
}

export default function App() {
  return (
    <svg
      width={W}
      height={H}
      viewBox={`0 0 ${W} ${H}`}
      style={{ position: "absolute", left: 0, top: 0, background: "#fff" }}
    >
      <rect width={W} height={H} fill="#fff" />
      {series.map((_, i) => (
        <Panel key={i} i={i} />
      ))}
    </svg>
  )
}
